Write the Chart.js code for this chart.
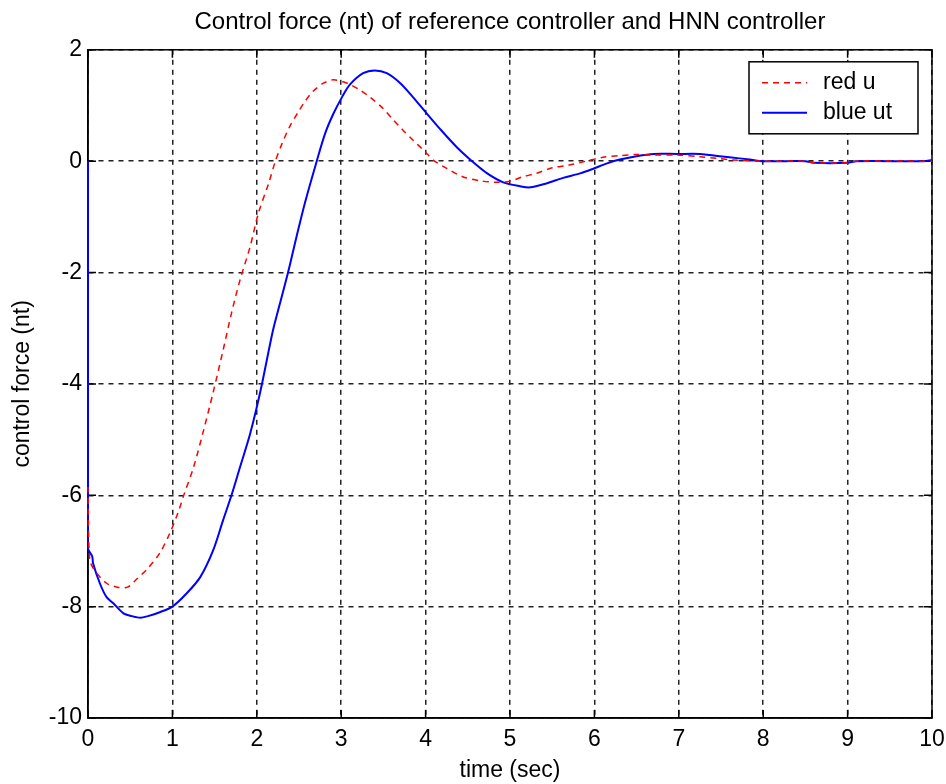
<!DOCTYPE html>
<html>
<head>
<meta charset="utf-8">
<title>Control force</title>
<script src="https://cdn.jsdelivr.net/npm/chart.js@4.4.0/dist/chart.umd.min.js"></script>
<style>
  html, body { margin: 0; padding: 0; background: #fff; }
  canvas { display: block; }
</style>
</head>
<body>
<canvas id="forceChart" width="946" height="784"></canvas>
<script>
// data
const timeRed = [0, 0.02, 0.08, 0.22, 0.35, 0.47, 0.56, 0.71, 0.85, 0.97, 1.07, 1.13, 1.25, 1.37, 1.48, 1.6, 1.7, 1.8, 1.92,
    2.02, 2.14, 2.22, 2.3, 2.39, 2.49, 2.57, 2.67, 2.79, 2.91, 3.07, 3.22, 3.34, 3.48, 3.6, 3.73, 3.85, 4.0, 4.09, 4.25,
    4.44, 4.64, 4.84, 5.0, 5.15, 5.31, 5.5, 5.7, 5.9, 6.1, 6.3, 6.5, 6.7, 6.98, 7.25, 7.45, 7.65, 8.0, 8.5, 8.6, 9.0, 9.1, 10];
const redU = [-5.85, -7.15, -7.35, -7.58, -7.65, -7.65, -7.53, -7.31, -7.04, -6.68, -6.3, -6.02, -5.5, -4.83, -4.17, -3.4,
    -2.73, -2.14, -1.54, -0.93, -0.4, 0, 0.32, 0.62, 0.88, 1.07, 1.26, 1.4, 1.46, 1.4, 1.28, 1.15, 0.97, 0.77, 0.56, 0.38,
    0.16, 0.02, -0.13, -0.28, -0.35, -0.38, -0.36, -0.28, -0.22, -0.12, -0.07, 0, 0.07, 0.1, 0.12, 0.11, 0.11, 0.08, 0.05,
    0.02, 0, 0, -0.03, -0.03, 0, 0];

const timeBlue = [0, 0, 0.05, 0.06, 0.14, 0.22, 0.3, 0.42, 0.52, 0.62, 0.71, 0.85, 1.0, 1.17, 1.33, 1.48, 1.6, 1.7, 1.8,
    1.92, 2.04, 2.19, 2.27, 2.37, 2.47, 2.57, 2.71, 2.81, 2.91, 3.01, 3.1, 3.26, 3.4, 3.54, 3.7, 3.85, 4.0, 4.17, 4.37,
    4.55, 4.73, 4.92, 5.12, 5.24, 5.43, 5.63, 5.83, 5.98, 6.15, 6.3, 6.5, 6.7, 6.98, 7.25, 7.37, 7.6, 7.84, 8.0, 8.5, 8.6,
    9.0, 9.1, 9.9, 10];
const blueUt = [0, -6.95, -7.1, -7.22, -7.58, -7.83, -7.94, -8.12, -8.17, -8.2, -8.17, -8.1, -8.0, -7.76, -7.47, -7.0,
    -6.45, -6.0, -5.5, -4.9, -4.15, -3.05, -2.58, -2.0, -1.36, -0.75, 0, 0.5, 0.86, 1.15, 1.37, 1.58, 1.63, 1.58, 1.4, 1.15,
    0.88, 0.58, 0.25, 0, -0.22, -0.38, -0.45, -0.47, -0.4, -0.3, -0.22, -0.14, -0.04, 0.03, 0.09, 0.13, 0.13, 0.13, 0.11,
    0.07, 0.03, 0, 0, -0.03, -0.03, 0, 0, 0.02];

const xTicks = [0, 1, 2, 3, 4, 5, 6, 7, 8, 9, 10];
const yTicks = [-10, -8, -6, -4, -2, 0, 2];

const FONT = "'Liberation Sans', Arial, sans-serif";

function toPoints(xs, ys) {
    return xs.map((x, i) => ({ x: x, y: ys[i] }));
}

// box around the axes with inward ticks (under the lines), matlab style legend on top
const frameAndLegend = {
    id: 'frameAndLegend',
    beforeDatasetsDraw(chart) {
        const ctx = chart.ctx;
        const area = chart.chartArea;
        const sx = chart.scales.x;
        const sy = chart.scales.y;
        ctx.save();
        ctx.setLineDash([]);
        ctx.strokeStyle = '#000';
        ctx.lineWidth = 1.5;
        ctx.beginPath();
        xTicks.forEach(v => {
            const px = sx.getPixelForValue(v);
            ctx.moveTo(px, area.top); ctx.lineTo(px, area.top + 8);
            ctx.moveTo(px, area.bottom); ctx.lineTo(px, area.bottom - 8);
        });
        yTicks.forEach(v => {
            const py = sy.getPixelForValue(v);
            ctx.moveTo(area.left, py); ctx.lineTo(area.left + 8, py);
            ctx.moveTo(area.right, py); ctx.lineTo(area.right - 8, py);
        });
        ctx.stroke();
        ctx.strokeRect(area.left, area.top, area.right - area.left, area.bottom - area.top);
        ctx.restore();
    },
    afterDraw(chart) {
        const ctx = chart.ctx;
        const area = chart.chartArea;
        ctx.save();
        const bx = area.right - 183, by = area.top + 12, bw = 169, bh = 72;
        ctx.setLineDash([]);
        ctx.fillStyle = '#fff';
        ctx.fillRect(bx, by, bw, bh);
        ctx.strokeStyle = '#000';
        ctx.lineWidth = 1.5;
        ctx.strokeRect(bx, by, bw, bh);
        ctx.font = '23px ' + FONT;
        ctx.textBaseline = 'middle';
        ctx.textAlign = 'left';
        chart.data.datasets.forEach((ds, i) => {
            const ly = by + 21 + i * 30;
            ctx.strokeStyle = ds.borderColor;
            ctx.lineWidth = ds.borderWidth;
            ctx.setLineDash(ds.borderDash || []);
            ctx.beginPath();
            ctx.moveTo(bx + 13, ly);
            ctx.lineTo(bx + 58, ly);
            ctx.stroke();
            ctx.fillStyle = '#000';
            ctx.fillText(ds.label, bx + 74, ly);
        });
        ctx.restore();
    }
};

new Chart(document.getElementById('forceChart'), {
    type: 'line',
    data: {
        datasets: [
            {
                label: 'red u',
                data: toPoints(timeRed, redU),
                borderColor: '#ff0000',
                borderWidth: 1.5,
                borderDash: [6, 5],
                pointRadius: 0,
                tension: 0.3,
                fill: false
            },
            {
                label: 'blue ut',
                data: toPoints(timeBlue, blueUt),
                borderColor: '#0000ff',
                borderWidth: 2,
                pointRadius: 0,
                tension: 0.3,
                fill: false
            }
        ]
    },
    options: {
        responsive: false,
        animation: false,
        clip: false,
        layout: { padding: { left: 0, right: 14, top: 0, bottom: 0 } },
        plugins: {
            legend: { display: false },
            tooltip: { enabled: false },
            title: {
                display: true,
                text: 'Control force (nt) of reference controller and HNN controller',
                color: '#000',
                fullSize: false,
                font: { family: FONT, size: 24, weight: 'normal' },
                padding: { top: 8, bottom: 13 }
            }
        },
        scales: {
            x: {
                type: 'linear',
                min: 0,
                max: 10,
                afterBuildTicks: s => { s.ticks = xTicks.map(v => ({ value: v })); },
                afterFit: s => { s.height = 66; s.paddingLeft = 0; s.paddingRight = 0; },
                grid: { color: '#222', lineWidth: 1.5, drawTicks: false },
                border: { display: true, color: '#000', width: 1.5, dash: [5, 5] },
                ticks: { color: '#000', padding: 8, maxRotation: 0, font: { family: FONT, size: 23 } },
                title: {
                    display: true,
                    text: 'time (sec)',
                    color: '#000',
                    font: { family: FONT, size: 23 },
                    padding: { top: 0, bottom: 0 }
                }
            },
            y: {
                type: 'linear',
                min: -10,
                max: 2,
                afterBuildTicks: s => { s.ticks = yTicks.map(v => ({ value: v })); },
                afterFit: s => { s.width = 88; s.paddingTop = 0; s.paddingBottom = 0; },
                grid: { color: '#222', lineWidth: 1.5, drawTicks: false },
                border: { display: true, color: '#000', width: 1.5, dash: [5, 5] },
                ticks: { color: '#000', padding: 6, font: { family: FONT, size: 23 } },
                title: {
                    display: true,
                    text: 'control force (nt)',
                    color: '#000',
                    font: { family: FONT, size: 23 },
                    padding: { top: 9, bottom: 0 }
                }
            }
        }
    },
    plugins: [frameAndLegend]
});
</script>
</body>
</html>
